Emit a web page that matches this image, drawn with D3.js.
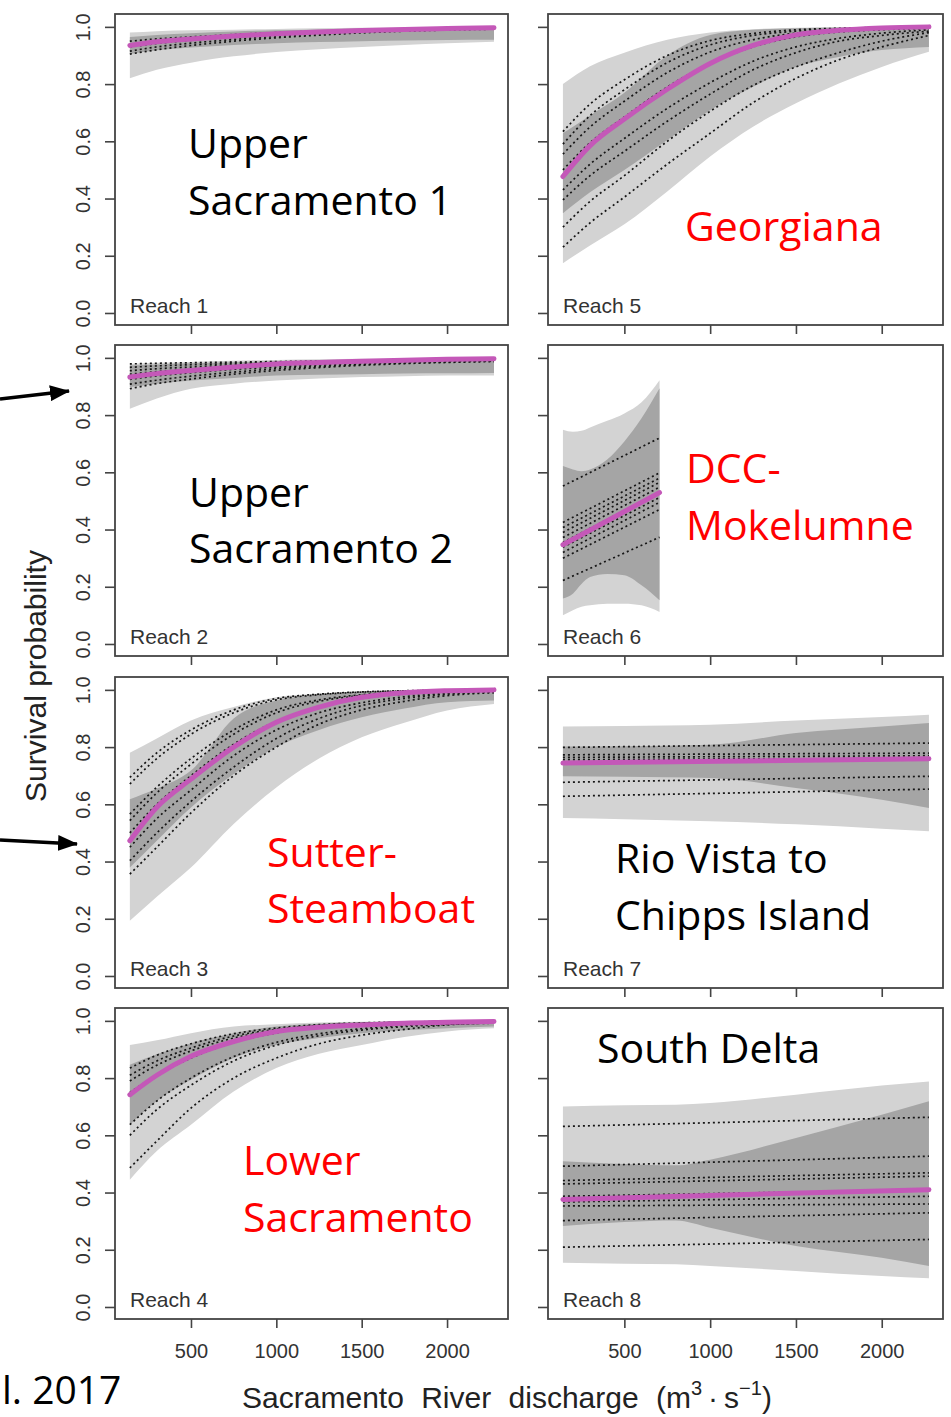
<!DOCTYPE html>
<html><head><meta charset="utf-8">
<script src="https://cdn.jsdelivr.net/npm/d3@7"></script>
<style>body{margin:0;background:#fff} svg{display:block}</style>
</head><body>
<svg id="chart" width="951" height="1417"></svg>
<script>
// ---------------- DATA ----------------
const discharge = [142, 300, 500, 750, 1000, 1250, 1500, 1750, 2000, 2275];
const xTicks = [500, 1000, 1500, 2000];
const yTicks = [0, 0.2, 0.4, 0.6, 0.8, 1.0];

// Reach 1
const reach1Hi95 = [0.98, 0.985, 0.988, 0.99, 0.993, 0.995, 0.997, 0.998, 0.999, 1.0];
const reach1Lo95 = [0.82, 0.85, 0.875, 0.897, 0.912, 0.922, 0.93, 0.937, 0.943, 0.948];
const reach1Hi50 = [0.965, 0.972, 0.978, 0.984, 0.988, 0.991, 0.994, 0.996, 0.998, 0.999];
const reach1Lo50 = [0.905, 0.918, 0.928, 0.937, 0.943, 0.947, 0.95, 0.952, 0.954, 0.955];
const reach1Mean = [0.935, 0.948, 0.958, 0.968, 0.976, 0.982, 0.987, 0.991, 0.994, 0.997];
const reach1Dotted = [
  [0.95, 0.958, 0.965, 0.973, 0.98, 0.985, 0.989, 0.992, 0.995, 0.997],
  [0.93, 0.942, 0.953, 0.964, 0.973, 0.98, 0.985, 0.989, 0.992, 0.995],
  [0.915, 0.93, 0.943, 0.956, 0.967, 0.975, 0.982, 0.987, 0.991, 0.994],
  [0.905, 0.92, 0.935, 0.95, 0.962, 0.971, 0.979, 0.985, 0.989, 0.992]
];

// Reach 2
const reach2Hi95 = [0.979, 0.983, 0.986, 0.99, 0.993, 0.995, 0.997, 0.998, 0.999, 1.0];
const reach2Lo95 = [0.822, 0.858, 0.892, 0.91, 0.921, 0.928, 0.933, 0.936, 0.938, 0.938];
const reach2Hi50 = [0.973, 0.977, 0.981, 0.985, 0.988, 0.991, 0.993, 0.995, 0.996, 0.997];
const reach2Lo50 = [0.898, 0.91, 0.921, 0.93, 0.938, 0.941, 0.943, 0.945, 0.946, 0.947];
const reach2Mean = [0.933, 0.945, 0.956, 0.968, 0.979, 0.984, 0.988, 0.992, 0.995, 0.997];
const reach2Dotted = [
  [0.979, 0.981, 0.983, 0.985, 0.987, 0.989, 0.99, 0.992, 0.993, 0.994],
  [0.967, 0.972, 0.976, 0.98, 0.984, 0.987, 0.989, 0.991, 0.993, 0.994],
  [0.955, 0.962, 0.968, 0.975, 0.98, 0.984, 0.987, 0.99, 0.992, 0.993],
  [0.943, 0.952, 0.96, 0.968, 0.975, 0.98, 0.984, 0.987, 0.99, 0.992],
  [0.925, 0.937, 0.948, 0.96, 0.968, 0.975, 0.98, 0.984, 0.988, 0.99],
  [0.908, 0.922, 0.936, 0.95, 0.962, 0.97, 0.977, 0.982, 0.986, 0.989],
  [0.892, 0.91, 0.926, 0.943, 0.956, 0.966, 0.974, 0.98, 0.984, 0.987]
];

// Reach 3
const reach3Hi95 = [0.78, 0.83, 0.893, 0.94, 0.974, 0.987, 0.995, 0.998, 0.999, 1.0];
const reach3Lo95 = [0.193, 0.277, 0.379, 0.531, 0.659, 0.76, 0.834, 0.885, 0.928, 0.951];
const reach3Hi50 = [0.618, 0.655, 0.718, 0.9, 0.963, 0.982, 0.99, 0.995, 0.998, 1.0];
const reach3Lo50 = [0.379, 0.473, 0.589, 0.706, 0.80, 0.86, 0.904, 0.935, 0.957, 0.963];
const reach3Mean = [0.473, 0.59, 0.688, 0.80, 0.887, 0.94, 0.974, 0.99, 0.997, 1.0];
const reach3Dotted = [
  [0.694, 0.78, 0.86, 0.93, 0.97, 0.985, 0.993, 0.997, 0.999, 1.0],
  [0.671, 0.76, 0.845, 0.92, 0.965, 0.983, 0.992, 0.996, 0.999, 1.0],
  [0.566, 0.66, 0.76, 0.86, 0.93, 0.965, 0.983, 0.992, 0.997, 0.999],
  [0.543, 0.64, 0.74, 0.845, 0.92, 0.96, 0.98, 0.99, 0.996, 0.999],
  [0.50, 0.60, 0.70, 0.81, 0.89, 0.94, 0.97, 0.985, 0.993, 0.997],
  [0.45, 0.55, 0.65, 0.77, 0.86, 0.92, 0.955, 0.976, 0.988, 0.995],
  [0.403, 0.50, 0.61, 0.73, 0.83, 0.90, 0.945, 0.97, 0.985, 0.993],
  [0.356, 0.45, 0.57, 0.70, 0.80, 0.88, 0.93, 0.96, 0.98, 0.99]
];

// Reach 4
const reach4Hi95 = [0.916, 0.932, 0.957, 0.98, 0.988, 0.994, 0.997, 0.999, 1.0, 1.0];
const reach4Lo95 = [0.445, 0.545, 0.637, 0.753, 0.835, 0.885, 0.916, 0.944, 0.963, 0.974];
const reach4Hi50 = [0.847, 0.883, 0.922, 0.957, 0.98, 0.99, 0.995, 0.997, 0.998, 0.999];
const reach4Lo50 = [0.637, 0.72, 0.794, 0.87, 0.916, 0.94, 0.957, 0.967, 0.974, 0.98];
const reach4Mean = [0.742, 0.81, 0.876, 0.928, 0.963, 0.978, 0.986, 0.992, 0.995, 0.998];
const reach4Dotted = [
  [0.835, 0.88, 0.92, 0.955, 0.975, 0.987, 0.993, 0.996, 0.998, 0.999],
  [0.81, 0.86, 0.905, 0.947, 0.97, 0.984, 0.991, 0.995, 0.998, 0.999],
  [0.79, 0.845, 0.895, 0.94, 0.967, 0.982, 0.99, 0.995, 0.997, 0.999],
  [0.75, 0.81, 0.87, 0.925, 0.958, 0.977, 0.987, 0.993, 0.996, 0.998],
  [0.637, 0.72, 0.80, 0.875, 0.925, 0.955, 0.973, 0.984, 0.99, 0.995],
  [0.60, 0.69, 0.775, 0.86, 0.915, 0.948, 0.968, 0.98, 0.988, 0.993],
  [0.486, 0.58, 0.695, 0.80, 0.87, 0.92, 0.95, 0.97, 0.986, 0.992]
];

// Reach 5
const reach5Hi95 = [0.80, 0.862, 0.91, 0.955, 0.98, 0.992, 0.997, 0.999, 1.0, 1.0];
const reach5Lo95 = [0.174, 0.236, 0.31, 0.425, 0.547, 0.651, 0.733, 0.802, 0.86, 0.913];
const reach5Hi50 = [0.628, 0.69, 0.77, 0.90, 0.972, 0.99, 0.995, 0.998, 0.999, 1.0];
const reach5Lo50 = [0.349, 0.422, 0.5, 0.605, 0.709, 0.791, 0.86, 0.895, 0.919, 0.93];
const reach5Mean = [0.477, 0.585, 0.678, 0.782, 0.872, 0.935, 0.972, 0.988, 0.996, 1.0];
const reach5Dotted = [
  [0.634, 0.73, 0.815, 0.9, 0.952, 0.977, 0.99, 0.995, 0.998, 1.0],
  [0.59, 0.69, 0.78, 0.875, 0.937, 0.97, 0.985, 0.993, 0.997, 0.999],
  [0.555, 0.65, 0.74, 0.84, 0.912, 0.955, 0.978, 0.99, 0.995, 0.998],
  [0.50, 0.595, 0.685, 0.79, 0.872, 0.93, 0.965, 0.982, 0.99, 0.995],
  [0.43, 0.52, 0.61, 0.715, 0.805, 0.88, 0.93, 0.96, 0.978, 0.99],
  [0.395, 0.48, 0.565, 0.67, 0.765, 0.85, 0.91, 0.95, 0.97, 0.985],
  [0.30, 0.39, 0.48, 0.6, 0.705, 0.795, 0.86, 0.91, 0.95, 0.98],
  [0.23, 0.315, 0.405, 0.52, 0.628, 0.735, 0.82, 0.885, 0.93, 0.97]
];

// Reach 6 (data only up to ~705)
const reach6BandX = [142, 200, 250, 300, 400, 500, 600, 705];
const reach6Hi95 = [0.749, 0.742, 0.745, 0.757, 0.78, 0.806, 0.845, 0.922];
const reach6Lo95 = [0.10, 0.118, 0.13, 0.135, 0.141, 0.141, 0.135, 0.112];
const reach6Hi50 = [0.622, 0.61, 0.604, 0.61, 0.645, 0.708, 0.789, 0.894];
const reach6Lo50 = [0.159, 0.176, 0.21, 0.234, 0.245, 0.24, 0.205, 0.153];
const reach6LineX = [142, 705];
const reach6Mean = [0.347, 0.529];
const reach6Dotted = [
  [0.552, 0.72], [0.425, 0.598], [0.407, 0.58], [0.39, 0.565], [0.372, 0.548],
  [0.355, 0.53], [0.338, 0.512], [0.32, 0.495], [0.30, 0.47], [0.222, 0.373]
];

// Reach 7
const reach7BandX = [142, 500, 1000, 1500, 2000, 2275];
const reach7Hi95 = [0.872, 0.874, 0.878, 0.893, 0.905, 0.913];
const reach7Lo95 = [0.552, 0.548, 0.541, 0.53, 0.515, 0.506];
const reach7Hi50 = [0.802, 0.803, 0.808, 0.849, 0.872, 0.884];
const reach7Lo50 = [0.698, 0.696, 0.692, 0.657, 0.616, 0.587];
const reach7LineX = [142, 2275];
const reach7Mean = [0.744, 0.759];
const reach7Dotted = [
  [0.799, 0.814], [0.773, 0.779], [0.764, 0.77], [0.756, 0.762], [0.677, 0.698], [0.628, 0.653]
];

// Reach 8
const reach8BandX = [142, 500, 800, 1000, 1500, 2000, 2275];
const reach8Hi95 = [0.701, 0.705, 0.707, 0.713, 0.742, 0.774, 0.788];
const reach8Lo95 = [0.155, 0.151, 0.149, 0.143, 0.126, 0.108, 0.10];
const reach8Hi50 = [0.509, 0.50, 0.495, 0.515, 0.591, 0.672, 0.719];
const reach8Lo50 = [0.283, 0.297, 0.302, 0.277, 0.213, 0.172, 0.143];
const reach8LineX = [142, 2275];
const reach8Mean = [0.376, 0.41];
const reach8Dotted = [
  [0.631, 0.663], [0.492, 0.527], [0.442, 0.469], [0.430, 0.457], [0.387, 0.41],
  [0.367, 0.387], [0.353, 0.36], [0.302, 0.329], [0.209, 0.236]
];

// ---------------- LAYOUT ----------------
const colX = [[115, 508], [548, 943]];
const rowTop = [14, 345, 677, 1008];
const panelH = 311;
const xDomain = [55, 2357];
const yDomain = [-0.042, 1.045];

const panels = [
  {reach: 1, col: 0, row: 0, bandX: discharge, hi95: reach1Hi95, lo95: reach1Lo95, hi50: reach1Hi50, lo50: reach1Lo50, lineX: discharge, mean: reach1Mean, dotted: reach1Dotted},
  {reach: 2, col: 0, row: 1, bandX: discharge, hi95: reach2Hi95, lo95: reach2Lo95, hi50: reach2Hi50, lo50: reach2Lo50, lineX: discharge, mean: reach2Mean, dotted: reach2Dotted},
  {reach: 3, col: 0, row: 2, bandX: discharge, hi95: reach3Hi95, lo95: reach3Lo95, hi50: reach3Hi50, lo50: reach3Lo50, lineX: discharge, mean: reach3Mean, dotted: reach3Dotted},
  {reach: 4, col: 0, row: 3, bandX: discharge, hi95: reach4Hi95, lo95: reach4Lo95, hi50: reach4Hi50, lo50: reach4Lo50, lineX: discharge, mean: reach4Mean, dotted: reach4Dotted},
  {reach: 5, col: 1, row: 0, bandX: discharge, hi95: reach5Hi95, lo95: reach5Lo95, hi50: reach5Hi50, lo50: reach5Lo50, lineX: discharge, mean: reach5Mean, dotted: reach5Dotted},
  {reach: 6, col: 1, row: 1, bandX: reach6BandX, hi95: reach6Hi95, lo95: reach6Lo95, hi50: reach6Hi50, lo50: reach6Lo50, lineX: reach6LineX, mean: reach6Mean, dotted: reach6Dotted},
  {reach: 7, col: 1, row: 2, bandX: reach7BandX, hi95: reach7Hi95, lo95: reach7Lo95, hi50: reach7Hi50, lo50: reach7Lo50, lineX: reach7LineX, mean: reach7Mean, dotted: reach7Dotted},
  {reach: 8, col: 1, row: 3, bandX: reach8BandX, hi95: reach8Hi95, lo95: reach8Lo95, hi50: reach8Hi50, lo50: reach8Lo50, lineX: reach8LineX, mean: reach8Mean, dotted: reach8Dotted}
];

// slide annotations (text, position, colour)
const notes = [
  {lines: ["Upper", "Sacramento 1"], x: 188, y: [158, 215], color: "#000", size: 41},
  {lines: ["Upper", "Sacramento 2"], x: 189, y: [507, 563], color: "#000", size: 41},
  {lines: ["Sutter-", "Steamboat"], x: 267, y: [867, 923], color: "#ff0000", size: 41},
  {lines: ["Lower", "Sacramento"], x: 243, y: [1175, 1232], color: "#ff0000", size: 41},
  {lines: ["Georgiana"], x: 685, y: [241], color: "#ff0000", size: 41},
  {lines: ["DCC-", "Mokelumne"], x: 686, y: [483, 540], color: "#ff0000", size: 41},
  {lines: ["Rio Vista to", "Chipps Island"], x: 615, y: [873, 930], color: "#000", size: 41},
  {lines: ["South Delta"], x: 597, y: [1063], color: "#000", size: 41},
  {lines: ["l. 2017"], x: 2, y: [1404], color: "#000", size: 39}
];

const LIGHT = "#d3d3d3", DARK = "#a5a5a5", MAGENTA = "#c458b8";
const rFont = "'Liberation Sans', Arial, Helvetica, sans-serif";
const slideFont = "'Open Sans', 'Noto Sans', sans-serif";

const svg = d3.select("#chart");
const defs = svg.append("defs");
defs.append("marker").attr("id", "arrowhead")
  .attr("markerUnits", "userSpaceOnUse")
  .attr("viewBox", "0 0 20 16").attr("refX", 19).attr("refY", 8)
  .attr("markerWidth", 20).attr("markerHeight", 16).attr("orient", "auto")
  .append("path").attr("d", "M0,0 L20,8 L0,16 Z").attr("fill", "#000");

panels.forEach(p => {
  const top = rowTop[p.row], bottom = top + panelH;
  const x = d3.scaleLinear().domain(xDomain).range(colX[p.col]);
  const y = d3.scaleLinear().domain(yDomain).range([bottom, top]);
  const g = svg.append("g");

  const bandRows = p.bandX.map((d, i) => ({x: d, lo95: p.lo95[i], hi95: p.hi95[i], lo50: p.lo50[i], hi50: p.hi50[i]}));
  const area95 = d3.area().x(d => x(d.x)).y0(d => y(d.lo95)).y1(d => y(d.hi95)).curve(d3.curveMonotoneX);
  const area50 = d3.area().x(d => x(d.x)).y0(d => y(d.lo50)).y1(d => y(d.hi50)).curve(d3.curveMonotoneX);
  g.append("path").datum(bandRows).attr("d", area95).attr("fill", LIGHT);
  g.append("path").datum(bandRows).attr("d", area50).attr("fill", DARK);

  const line = d3.line().x(d => x(d[0])).y(d => y(d[1])).curve(d3.curveMonotoneX);
  p.dotted.forEach(vals => {
    g.append("path").datum(p.lineX.map((d, i) => [d, vals[i]])).attr("d", line)
      .attr("fill", "none").attr("stroke", "#151515").attr("stroke-width", 1.7)
      .attr("stroke-dasharray", "2,3");
  });
  g.append("path").datum(p.lineX.map((d, i) => [d, p.mean[i]])).attr("d", line)
    .attr("fill", "none").attr("stroke", MAGENTA).attr("stroke-width", 5).attr("stroke-linecap", "round");

  // frame
  g.append("rect").attr("x", colX[p.col][0]).attr("y", top)
    .attr("width", colX[p.col][1] - colX[p.col][0]).attr("height", panelH)
    .attr("fill", "none").attr("stroke", "#444").attr("stroke-width", 1.8);

  // y axis
  const ya = g.append("g").attr("transform", `translate(${colX[p.col][0]},0)`)
    .call(d3.axisLeft(y).tickValues(yTicks).tickSize(10).tickSizeOuter(0)
      .tickFormat(p.col === 0 ? d3.format(".1f") : () => ""));
  ya.select(".domain").remove();
  ya.selectAll(".tick line").attr("stroke", "#444").attr("stroke-width", 1.6);
  ya.selectAll(".tick text").attr("x", null).attr("dy", null)
    .attr("transform", "translate(-25,0) rotate(-90)")
    .attr("text-anchor", "middle")
    .attr("font-family", rFont).attr("font-size", 20).attr("fill", "#333");

  // x axis
  const xa = g.append("g").attr("transform", `translate(0,${bottom})`)
    .call(d3.axisBottom(x).tickValues(xTicks).tickSize(9).tickSizeOuter(0)
      .tickFormat(p.row === 3 ? d3.format("d") : () => ""));
  xa.select(".domain").remove();
  xa.selectAll(".tick line").attr("stroke", "#444").attr("stroke-width", 1.6);
  xa.selectAll(".tick text").attr("y", 39).attr("dy", null)
    .attr("font-family", rFont).attr("font-size", 20).attr("fill", "#333");

  // reach label
  g.append("text").attr("x", colX[p.col][0] + 15).attr("y", y(0))
    .attr("font-family", rFont).attr("font-size", 21).attr("fill", "#333")
    .text("Reach " + p.reach);
});

// axis titles
svg.append("text").attr("transform", "translate(46,676) rotate(-90)")
  .attr("text-anchor", "middle").attr("font-family", rFont).attr("font-size", 30).attr("fill", "#222")
  .text("Survival probability");

const xt = svg.append("text").attr("x", 507).attr("y", 1408)
  .attr("text-anchor", "middle").attr("font-family", rFont).attr("font-size", 30).attr("fill", "#222")
  .attr("word-spacing", 9);
xt.append("tspan").text("Sacramento River discharge (m");
xt.append("tspan").attr("dy", -13).attr("font-size", 20).text("3");
xt.append("tspan").attr("dy", 13).text("\u2009\u00b7\u2009s");
xt.append("tspan").attr("dy", -13).attr("font-size", 20).text("\u22121");
xt.append("tspan").attr("dy", 13).text(")");

// annotations
notes.forEach(n => {
  n.lines.forEach((t, i) => {
    svg.append("text").attr("x", n.x).attr("y", n.y[i])
      .attr("font-family", slideFont).attr("font-size", n.size).attr("fill", n.color).text(t);
  });
});

// arrows
svg.append("line").attr("x1", 0).attr("y1", 399).attr("x2", 69).attr("y2", 391)
  .attr("stroke", "#000").attr("stroke-width", 3.5).attr("marker-end", "url(#arrowhead)");
svg.append("line").attr("x1", 0).attr("y1", 840).attr("x2", 77).attr("y2", 844)
  .attr("stroke", "#000").attr("stroke-width", 3.5).attr("marker-end", "url(#arrowhead)");
</script>
</body></html>
